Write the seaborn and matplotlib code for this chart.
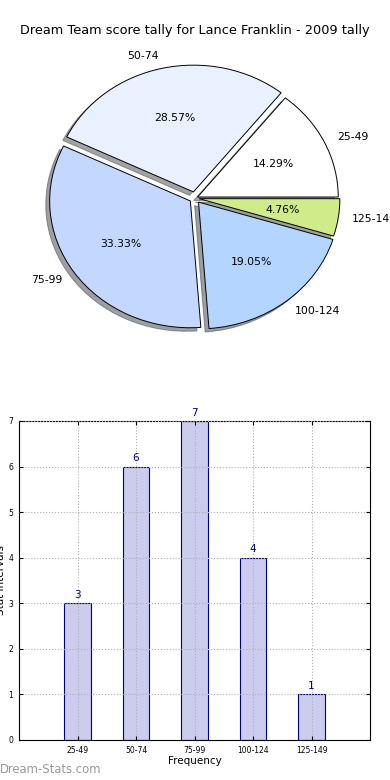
import matplotlib
matplotlib.use("Agg")
import matplotlib.pyplot as plt
import seaborn as sns

# Data
intervals = ["25-49", "50-74", "75-99", "100-124", "125-149"]
counts = [3, 6, 7, 4, 1]
pie_colors = ["#ffffff", "#e9f1ff", "#c4d8ff", "#b3d5ff", "#cfeb8a"]
explode = [0.02, 0.05, 0.04, 0.04, 0.03]

sns.set_style("white")
plt.rcParams["font.family"] = ["DejaVu Sans"]
plt.rcParams["text.color"] = "black"
plt.rcParams["axes.labelcolor"] = "black"
plt.rcParams["xtick.color"] = "black"
plt.rcParams["ytick.color"] = "black"

fig = plt.figure(figsize=(3.9, 7.8), dpi=100)

# Pie chart (top) - not forced round, like the old output
ax_pie = fig.add_axes([0.0, 0.496, 1.0, 0.5])
wedges, texts, autotexts = ax_pie.pie(
    counts, labels=intervals, colors=pie_colors, explode=explode,
    autopct="%.2f%%", startangle=0, shadow=True, counterclock=True,
    wedgeprops={"edgecolor": "black", "linewidth": 0.7},
    textprops={"fontsize": 7.8, "color": "black"},
)
ax_pie.set_aspect("auto")
ax_pie.set_xlim(-1.386, 1.386)
ax_pie.set_ylim(-1.538, 1.538)
ax_pie.axis("off")
fig.text(0.5, 0.961, "Dream Team score tally for Lance Franklin - 2009 tally",
         ha="center", va="center", fontsize=9.25, color="black")

# Bar chart (bottom)
ax_bar = fig.add_axes([0.0487, 0.0513, 0.9003, 0.409])
sns.barplot(x=intervals, y=counts, ax=ax_bar, width=0.45,
            color="#ccccee", edgecolor="navy", linewidth=0.8, saturation=1)
for i, v in enumerate(counts):
    ax_bar.text(i, v + 0.07, str(v), ha="center", va="bottom",
                color="navy", fontsize=7.5)
ax_bar.set_xlim(-1, 5)
ax_bar.set_ylim(0, 7)
ax_bar.set_yticks(range(0, 8))
ax_bar.grid(True, linestyle=":", color="#b0b0b0", linewidth=0.8)
ax_bar.set_axisbelow(False)
ax_bar.tick_params(direction="in", labelsize=5.5, length=3, top=True, right=True,
                   bottom=True, left=True, pad=4)
ax_bar.set_xlabel("Frequency", fontsize=7.5, labelpad=1)
ax_bar.set_ylabel("Stat Intervals", fontsize=7.5)
ax_bar.yaxis.set_label_coords(-0.036, 0.5)
for s in ax_bar.spines.values():
    s.set_color("black")
    s.set_linewidth(0.8)

fig.text(0.0, 0.013, "Dream-Stats.com", ha="left", va="center",
         color="#999999", fontsize=8.4)

fig.savefig("out.png", dpi=100)
